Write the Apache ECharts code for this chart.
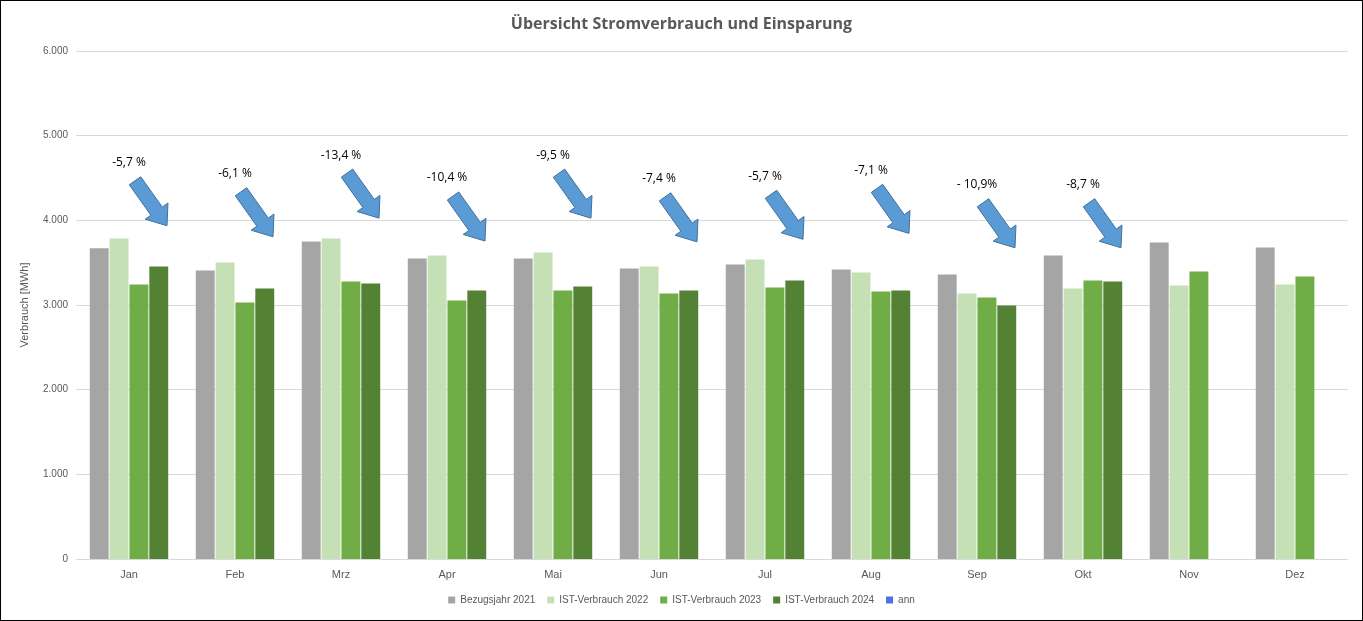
<!DOCTYPE html><html><head><meta charset="utf-8"><script src="https://cdn.jsdelivr.net/npm/echarts@6/dist/echarts.min.js"></script>
<style>html,body{margin:0;padding:0;background:#fff}#c{width:1361px;height:619px;border:1px solid #000}</style></head><body><div id="c"></div><script>
const categories=['Jan','Feb','Mrz','Apr','Mai','Jun','Jul','Aug','Sep','Okt','Nov','Dez'];
const s2021=[3670,3407,3749,3548,3548,3430,3478,3419,3360,3584,3737,3678];
const s2022=[3784,3501,3784,3584,3619,3454,3537,3383,3136,3195,3230,3242];
const s2023=[3242,3030,3277,3053,3171,3136,3206,3159,3089,3289,3395,3336];
const s2024=[3454,3195,3254,3171,3218,3171,3289,3171,2994,3277,null,null];
const savingLabels=['-5,7 %','-6,1 %','-13,4 %','-10,4 %','-9,5 %','-7,4 %','-5,7 %','-7,1 %','- 10,9%','-8,7 %'];
const labelLevels=[4680,4550,4770,4500,4770,4490,4520,4590,4420,4420];
const yTicks=['0','1.000','2.000','3.000','4.000','5.000','6.000'];
const ann=savingLabels.map((t,i)=>[i,labelLevels[i],t]);
const chart=echarts.init(document.getElementById('c'));
const bar=(name,data,color)=>({name,type:'bar',data,itemStyle:{color},barGap:'5%',barCategoryGap:'26%'});
chart.setOption({
 animation:false,
 title:{text:'Übersicht Stromverbrauch und Einsparung',left:'center',top:10,textStyle:{fontFamily:'Open Sans',fontSize:16,fontWeight:'bold',color:'#595959'}},
 legend:{bottom:10,itemWidth:7,itemHeight:7,icon:'rect',itemGap:12,textStyle:{fontSize:10,color:'#595959'}},
 grid:{left:75,right:14,top:50,bottom:61},
 xAxis:{type:'category',data:categories,axisTick:{show:false},axisLine:{lineStyle:{color:'#d9d9d9'}},axisLabel:{color:'#595959',fontSize:11,margin:10}},
 yAxis:{type:'value',min:0,max:6000,interval:1000,name:'Verbrauch [MWh]',nameLocation:'middle',nameGap:46,nameTextStyle:{color:'#595959',fontSize:11},
  axisLabel:{color:'#595959',fontSize:10,formatter:v=>yTicks[v/1000]},splitLine:{lineStyle:{color:'#d9d9d9'}}},
 series:[bar('Bezugsjahr 2021',s2021,'#a5a5a5'),bar('IST-Verbrauch 2022',s2022,'#c5e0b4'),bar('IST-Verbrauch 2023',s2023,'#70ad47'),bar('IST-Verbrauch 2024',s2024,'#548235'),
 {type:'custom',name:'ann',data:ann,silent:true,legendHoverLink:false,
  renderItem:(p,api)=>{
   const c=api.coord([api.value(0),api.value(1)]);
   const x0=c[0]+6,y0=c[1]+18,x1=c[0]+38,y1=c[1]+63;
   const dx=x1-x0,dy=y1-y0,L=Math.hypot(dx,dy),ux=dx/L,uy=dy/L,nx=-uy,ny=ux;
   const w=7,hw=14,hl=18;
   const P=(a,b)=>[x0+ux*a+nx*b,y0+uy*a+ny*b];
   const pts=[P(0,-w),P(L-hl,-w),P(L-hl,-hw),P(L,0),P(L-hl,hw),P(L-hl,w),P(0,w)];
   return {type:'group',children:[
    {type:'polygon',shape:{points:pts},style:{fill:'#5b9bd5',stroke:'#41719c',lineWidth:1}},
    {type:'text',x:c[0],y:c[1],style:{text:api.value(2),fill:'#000',fontSize:12,fontFamily:'Open Sans',align:'center',verticalAlign:'middle'}}]};
  }}]
});
</script></body></html>
